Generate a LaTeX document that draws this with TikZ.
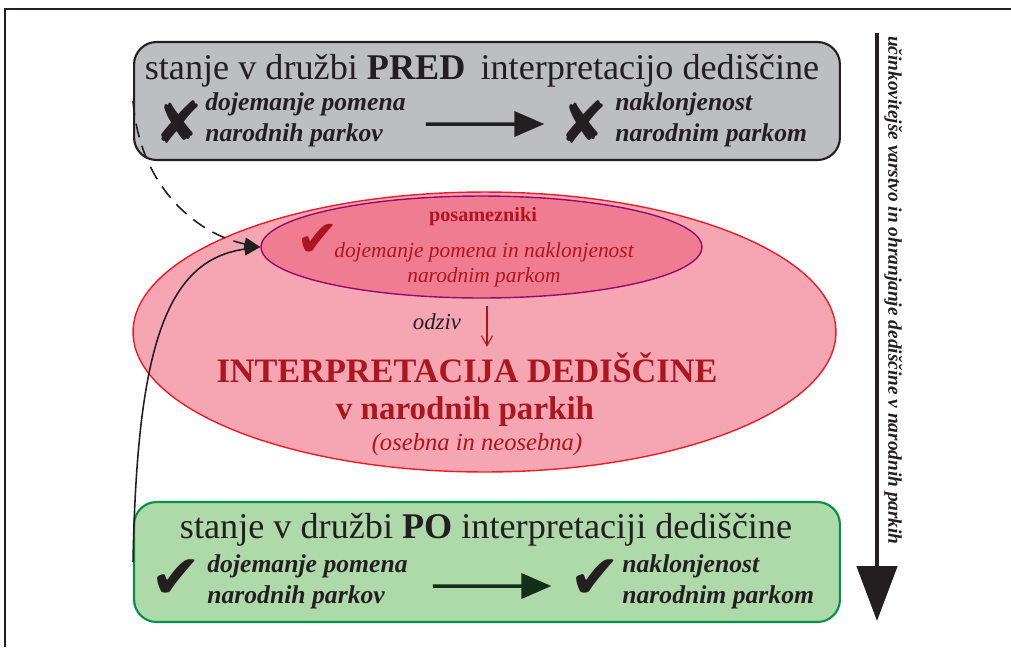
\documentclass[tikz,border=0pt]{standalone}
\usepackage{fontspec}
\setmainfont{Liberation Serif}
\newfontfamily\dingfont{DejaVu Sans}
\usetikzlibrary{arrows.meta,shapes.geometric}

\begin{document}
\begin{tikzpicture}[x=0.02cm, y=-0.02cm, >=Triangle,
  statebox/.style={draw, line width=1.2pt, rounded corners=0.45cm, minimum width=14.12cm, inner sep=0pt},
  heading/.style={font=\fontsize{20.6}{24}\selectfont, text=inkcolor},
  effect/.style={font=\fontsize{14.6}{17.6}\selectfont\bfseries\itshape, align=left, anchor=west, text=inkcolor, inner sep=0pt},
  signmark/.style={font=\dingfont\fontsize{33}{33}\selectfont, inner sep=0pt},
  flow/.style={line width=2pt, -{Triangle[length=0.6cm, width=0.5cm]}},
  link/.style={line width=0.9pt, inkcolor, -{Triangle[length=0.32cm, width=0.25cm]}}
]

\definecolor{inkcolor}{RGB}{35, 31, 32}
\definecolor{predgray}{RGB}{188, 190, 192}
\definecolor{pofill}{RGB}{174, 217, 168}
\definecolor{pogreen}{RGB}{0, 146, 69}
\definecolor{arrowgreen}{RGB}{18, 48, 24}
\definecolor{ellpink}{RGB}{246, 166, 178}
\definecolor{ellred}{RGB}{237, 28, 36}
\definecolor{innerpink}{RGB}{240, 124, 146}
\definecolor{ellpurple}{RGB}{150, 10, 110}
\definecolor{darkred}{RGB}{172, 22, 32}

\useasboundingbox (0,0) rectangle (1011,647);
\draw[line width=1pt, inkcolor] (5,647) -- (5,9) -- (1011,9);

% boxes and ellipses
\node[statebox, draw=inkcolor, fill=predgray, minimum height=2.36cm] (pred) at (487,101) {};
\node[statebox, draw=pogreen, fill=pofill, minimum height=2.4cm] (po) at (487,562) {};
\node[ellipse, draw=ellred, fill=ellpink, line width=0.8pt, minimum width=14.06cm, minimum height=5.6cm, inner sep=0pt] (interp) at (484.5,332) {};
\node[ellipse, draw=ellpurple, fill=innerpink, line width=0.8pt, minimum width=8.82cm, minimum height=2.04cm, inner sep=0pt] (indiv) at (481.5,247) {};

% before
\node[heading] (predtitle) at (482,71) {stanje v družbi \textbf{PRED}\, interpretacijo dediščine};
\node[signmark, text=inkcolor] (predx1) at (179,122) {✘};
\node[effect] (preddoj) at (205,120) {dojemanje pomena\\narodnih parkov};
\node[signmark, text=inkcolor] (predx2) at (584,122) {✘};
\node[effect] (prednak) at (615,120) {naklonjenost\\narodnim parkom};
\draw[flow, inkcolor] ([xshift=0.4cm, yshift=-0.08cm]preddoj.east) -- ([xshift=-0.3cm, yshift=-0.04cm]predx2.west);

% individuals
\node[font=\fontsize{11.5}{13}\selectfont\bfseries, text=darkred] (posam) at (483,217) {posamezniki};
\node[signmark, text=darkred, font=\dingfont\fontsize{29}{29}\selectfont] (indivcheck) at (318,240) {✔};
\node[font=\fontsize{12.2}{14.6}\selectfont\itshape, text=darkred, align=center] (indivtext) at (484,265) {dojemanje pomena in naklonjenost\\narodnim parkom};

% interpretation
\node[font=\fontsize{13}{15}\selectfont\itshape, text=inkcolor] (odziv) at (437,322) {odziv};
\node[font=\fontsize{19.5}{22}\selectfont\bfseries, text=darkred] (interptitle) at (467,368) {INTERPRETACIJA DEDIŠČINE};
\node[font=\fontsize{18.8}{22}\selectfont\bfseries, text=darkred] (interpsub) at (465,412) {v narodnih parkih};
\node[font=\fontsize{14}{16}\selectfont\itshape, text=darkred] (interpnote) at (477,445) {(osebna in neosebna)};
\draw[darkred, line width=0.6pt, -{Straight Barb[length=0.2cm, width=0.22cm]}] ([xshift=0.11cm, yshift=-0.14cm]indiv.south) -- ([xshift=0.11cm]indiv.south |- interptitle.north);

% after
\node[heading] (potitle) at (486,530) {stanje v družbi \textbf{PO} interpretaciji dediščine};
\node[signmark, text=inkcolor, font=\dingfont\fontsize{35}{35}\selectfont] (pocheck1) at (176,579) {✔};
\node[effect] (podoj) at (207,582) {dojemanje pomena\\narodnih parkov};
\node[signmark, text=inkcolor, font=\dingfont\fontsize{35}{35}\selectfont] (pocheck2) at (595,579) {✔};
\node[effect] (ponak) at (622,582) {naklonjenost\\narodnim parkom};
\draw[flow, arrowgreen] ([xshift=0.5cm, yshift=-0.08cm]podoj.east) -- ([xshift=-0.35cm, yshift=-0.14cm]pocheck2.west);

% links to individuals
\draw[link, dashed, dash pattern=on 8pt off 5pt] (pred.west) .. controls (140,190) and (200,235) .. (indiv.west);
\draw[link] (po.west) .. controls (137,350) and (165,260) .. (indiv.west);

% trend arrow
\coordinate (trendtop) at (877,33);
\coordinate (trendend) at (877,621);
\draw[line width=2.8pt, inkcolor, -{Triangle[length=1.1cm, width=0.8cm]}] (trendtop) -- (trendend);
\node[rotate=-90, anchor=west, font=\fontsize{11}{13}\selectfont\bfseries\itshape, text=inkcolor] (trendlabel) at (893,30) {učinkovitejše varstvo in ohranjanje dediščine v narodnih parkih};

\end{tikzpicture}
\end{document}
